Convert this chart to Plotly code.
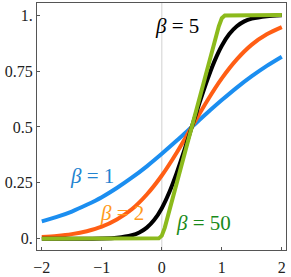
import plotly.graph_objects as go

# sample positions and curve values
x_b1 = [-2, -1.75, -1.5, -1.25, -1, -0.75, -0.5, -0.25, 0, 0.25, 0.5, 0.75, 1, 1.25, 1.5, 1.75, 2]
y_b1 = [0.078, 0.098, 0.122, 0.152, 0.186, 0.227, 0.273, 0.324, 0.380, 0.439, 0.5, 0.561, 0.620, 0.676, 0.727, 0.773, 0.814]

x_b2 = [-2, -1.75, -1.5, -1.25, -1, -0.75, -0.5, -0.25, 0, 0.25, 0.5, 0.75, 1, 1.25, 1.5, 1.75, 2]
y_b2 = [0.008, 0.013, 0.021, 0.034, 0.054, 0.086, 0.132, 0.198, 0.283, 0.386, 0.5, 0.614, 0.717, 0.802, 0.868, 0.914, 0.946]

x_b5 = [-2, -1.5, -1, -0.75, -0.5, -0.375, -0.25, -0.125, 0, 0.125, 0.25, 0.375, 0.5,
        0.625, 0.75, 0.875, 1, 1.125, 1.25, 1.375, 1.5, 1.75, 2]
y_b5 = [0.0, 0.0001, 0.0013, 0.0046, 0.0157, 0.0283, 0.050, 0.085, 0.137, 0.208, 0.296, 0.395, 0.5,
        0.605, 0.704, 0.792, 0.863, 0.915, 0.950, 0.972, 0.984, 0.995, 0.999]

x_b50 = [-2, -0.05, 0, 0.05, 0.95, 1, 1.05, 2]
y_b50 = [0.0, 0.002, 0.014, 0.05, 0.95, 0.986, 0.998, 1.0]

x_ticks = [-2, -1, 0, 1, 2]
x_tick_labels = ["\u22122", "\u22121", "0", "1", "2"]
y_ticks = [0, 0.25, 0.5, 0.75, 1]
y_tick_labels = ["0.", "0.25", "0.5", "0.75", "1."]

labels = ["<i>\u03b2</i> = 1", "<i>\u03b2</i> = 2", "<i>\u03b2</i> = 5", "<i>\u03b2</i> = 50"]
label_x = [-1.17, -0.67, 0.26, 0.69]
label_y = [0.28, 0.115, 0.95, 0.07]

line_colors = ["#1b8ef0", "#ff5e14", "#000000", "#8cba1c"]
label_colors = ["#2283d0", "#ff9a20", "#000000", "#1a8a1a"]

SERIF = "'Liberation Serif', serif"

fig = go.Figure()
series = [(x_b1, y_b1), (x_b2, y_b2), (x_b5, y_b5), (x_b50, y_b50)]
for i, (xs, ys) in enumerate(series):
    fig.add_trace(go.Scatter(
        x=xs, y=ys, mode="lines",
        line=dict(color=line_colors[i], width=4,
                  shape="spline" if i < 3 else "linear", smoothing=0.8),
        showlegend=False, hoverinfo="skip"))

for i in range(4):
    fig.add_annotation(x=label_x[i], y=label_y[i], xref="x", yref="y",
                       text=labels[i], showarrow=False,
                       font=dict(family=SERIF, size=21, color=label_colors[i]))

fig.add_shape(type="line", x0=0, x1=0, xref="x", y0=0, y1=1, yref="paper",
              line=dict(color="#d9d9d9", width=1.2), layer="below")

font = dict(family=SERIF, size=16, color="#222222")
fig.update_layout(
    width=291, height=277,
    margin=dict(l=37, r=5, t=3, b=27),
    paper_bgcolor="white", plot_bgcolor="white",
    font=font,
    xaxis=dict(range=[-2.08, 2.07], tickvals=x_ticks, ticktext=x_tick_labels,
               ticks="inside", ticklen=3, tickcolor="#555555", automargin=False,
               showgrid=False, zeroline=False, showline=True, mirror=True,
               linecolor="#555555", linewidth=1, tickfont=font, ticklabelstandoff=3),
    yaxis=dict(range=[-0.05, 1.054], tickvals=y_ticks, ticktext=y_tick_labels,
               ticks="inside", ticklen=3, tickcolor="#555555", automargin=False,
               showgrid=False, zeroline=False, showline=True, mirror=True,
               linecolor="#555555", linewidth=1, tickfont=font),
)

fig.write_html("out.html", config={"displayModeBar": False},
               post_script="document.body.style.margin='0';document.body.style.padding='0';")
